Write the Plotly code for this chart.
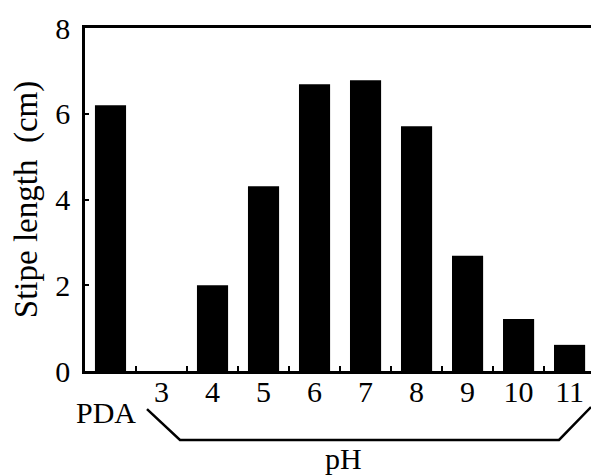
import plotly.graph_objects as go

categories = ["PDA", "3", "4", "5", "6", "7", "8", "9", "10", "11"]
tick_labels = ["", "3", "4", "5", "6", "7", "8", "9", "10", "11"]
stipe_length = [6.2, 0.0, 2.0, 4.31, 6.69, 6.78, 5.71, 2.69, 1.21, 0.61]
y_ticks = [0, 2, 4, 6, 8]

FONT = "Liberation Serif, Times New Roman, serif"
FS = 30

fig = go.Figure(go.Bar(
    x=categories, y=stipe_length,
    marker=dict(color="black", line=dict(width=0)),
))

fig.update_layout(
    width=591, height=476,
    margin=dict(l=85, r=0, t=28, b=105),
    paper_bgcolor="white", plot_bgcolor="white",
    bargap=0.39,
    showlegend=False,
    font=dict(family=FONT, size=FS, color="black"),
    xaxis=dict(
        type="category",
        range=[-0.5, 9.42],
        tickvals=categories, ticktext=tick_labels,
        tickson="boundaries",
        ticks="inside", ticklen=5, tickwidth=1.5, tickcolor="black",
        showline=True, linecolor="black", linewidth=2.5, mirror=True,
        showgrid=False, zeroline=False,
        ticklabelstandoff=-8,
        tickfont=dict(family=FONT, size=FS, color="black"),
    ),
    yaxis=dict(
        range=[0, 8],
        tickvals=y_ticks,
        ticks="inside", ticklen=4, tickwidth=1.5, tickcolor="black",
        showline=True, linecolor="black", linewidth=2.5,
        showgrid=False, zeroline=False,
        ticklabelstandoff=6,
        tickfont=dict(family=FONT, size=FS, color="black"),
        title=dict(text="Stipe length&nbsp;&nbsp;(cm)", standoff=8,
                   font=dict(family=FONT, size=33, color="black")),
    ),
)

fig.add_shape(
    type="path", xref="paper", yref="paper",
    path="M 0.1225 -0.111 L 0.1877 -0.201 L 0.9368 -0.201 L 1.0 -0.105",
    line=dict(color="black", width=2.5),
)

fig.add_annotation(
    text="PDA", xref="paper", yref="paper",
    x=(106 - 85) / 506, y=(371 - 413) / 343,
    showarrow=False, xanchor="center", yanchor="middle",
    font=dict(family=FONT, size=FS, color="black"),
)
fig.add_annotation(
    text="pH", xref="paper", yref="paper",
    x=(343 - 85) / 506, y=(371 - 458) / 343,
    showarrow=False, xanchor="center", yanchor="middle",
    font=dict(family=FONT, size=FS, color="black"),
)

fig.write_html("out.html", config={"displayModeBar": False},
               post_script="document.body.style.margin='0';document.body.style.overflow='hidden';")
